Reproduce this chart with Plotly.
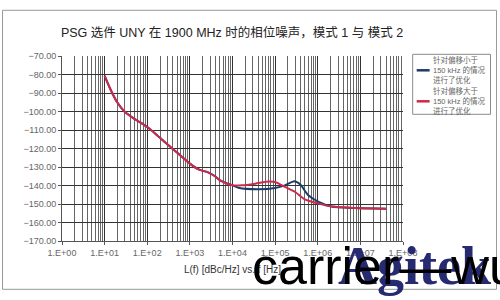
import plotly.graph_objects as go

# ---- data ----
shared_f = [10, 13.5, 19.5, 30, 52, 100, 155, 265, 460, 1000, 1600, 2750, 3900, 5100, 10000]
shared_v = [-80.8, -87.7, -94.9, -100.3, -104.2, -108.4, -112.0, -116.8, -121.5, -128.2,
            -131.3, -133.0, -135.0, -137.2, -139.9]

blue_tail_f = [13800, 40700, 100000, 170000, 282000, 390000, 600000, 1.05e6, 2.1e6, 7.6e6, 4e7]
blue_tail_v = [-141.2, -142.0, -141.3, -139.9, -137.7, -139.5, -145.3, -148.9, -151.4, -152.2, -152.5]

red_tail_f = [16600, 34000, 69000, 100000, 170000, 295000, 500000, 1.05e6, 2.1e6, 7.6e6, 4e7]
red_tail_v = [-139.9, -139.0, -137.8, -138.1, -140.8, -143.5, -147.5, -149.8, -151.4, -152.2, -152.5]

blue_name = "针对偏移小于<br>150 kHz 的情况<br>进行了优化"
red_name = "针对偏移大于<br>150 kHz 的情况<br>进行了优化"

x_tickvals = [1, 10, 100, 1000, 1e4, 1e5, 1e6, 1e7, 1e8]
x_ticktext = ["1.E+00", "1.E+01", "1.E+02", "1.E+03", "1.E+04", "1.E+05", "1.E+06", "1.E+07", "1.E+08"]
y_tickvals = [-70, -80, -90, -100, -110, -120, -130, -140, -150, -160, -170]

title_text = "PSG 选件 UNY 在 1900 MHz 时的相位噪声，模式 1 与 模式 2"
x_title = "L(f) [dBc/Hz] vs. f [Hz]"

BLUE = "#1d3c66"
RED = "#cc2a4c"

# ---- layout geometry (pixels) ----
W, H = 500, 300
L, R, T, B = 61.6, 403.3, 55.7, 240.7
pw, ph = R - L, B - T

def px(x):
    return (x - L) / pw

def py(y):
    return (B - y) / ph

FONT = "Liberation Sans, Arial, Noto Sans CJK SC, sans-serif"

minor_vals = [m * 10 ** d for d in range(0, 8) for m in range(2, 10)]

fig = go.Figure()
fig.add_trace(go.Scatter(
    x=shared_f + blue_tail_f, y=shared_v + blue_tail_v, mode="lines", name=blue_name,
    line=dict(color=BLUE, width=2, shape="spline", smoothing=0.7)))
fig.add_trace(go.Scatter(
    x=shared_f + red_tail_f, y=shared_v + red_tail_v, mode="lines", name=red_name,
    line=dict(color=RED, width=2, shape="spline", smoothing=0.7)))

fig.update_layout(
    width=W, height=H,
    margin=dict(l=L, r=W - R, t=T, b=H - B, autoexpand=False),
    paper_bgcolor="white", plot_bgcolor="white",
    font=dict(family=FONT, color="#555555", size=9),
    title=dict(text=title_text, x=232 / W, xanchor="center", xref="container",
               y=1 - 33 / H, yanchor="middle",
               font=dict(family=FONT, size=12.5, color="#222222")),
    showlegend=False,
)

fig.update_xaxes(
    type="log", range=[0, 8], tickmode="array", tickvals=x_tickvals, ticktext=x_ticktext,
    showgrid=True, gridcolor="#333333", gridwidth=1,
    minor=dict(tickmode="array", tickvals=minor_vals, showgrid=True, gridcolor="#666666", gridwidth=1),
    ticks="outside", ticklen=3, tickcolor="#555555",
    showline=True, linecolor="#555555", mirror=False,
    tickfont=dict(size=9, color="#666666"),
    title=dict(text=x_title, font=dict(size=10, color="#333333"), standoff=9),
    zeroline=False,
)
fig.update_yaxes(
    range=[-170, -70], tickmode="array", tickvals=y_tickvals, tickformat=".2f",
    showgrid=True, gridcolor="#333333", gridwidth=1,
    ticks="outside", ticklen=3, tickcolor="#555555",
    showline=True, linecolor="#555555",
    tickfont=dict(size=9, color="#666666"), zeroline=False,
)

# outer frame
fig.add_shape(type="rect", xref="paper", yref="paper",
              x0=px(2), x1=px(497), y0=py(289), y1=py(10),
              line=dict(color="#999999", width=1), fillcolor="rgba(0,0,0,0)", layer="below")

# legend (drawn by hand to match the compact box of the reference)
fig.add_shape(type="rect", xref="paper", yref="paper",
              x0=px(413), x1=px(491), y0=py(114), y1=py(54),
              line=dict(color="#8a8a8a", width=1), fillcolor="white", layer="above")
for name, color, ymid in [(blue_name, BLUE, 70), (red_name, RED, 101)]:
    fig.add_shape(type="line", xref="paper", yref="paper",
                  x0=px(417), x1=px(430), y0=py(ymid), y1=py(ymid),
                  line=dict(color=color, width=2.5), layer="above")
    fig.add_annotation(text=name, xref="paper", yref="paper", x=px(431), y=py(ymid),
                       xanchor="left", yanchor="middle", align="left", showarrow=False,
                       font=dict(family=FONT, size=7.5, color="#666666"))

# watermarks: logo first, black text drawn over it
fig.add_annotation(text="<b>Agitek</b>", xref="paper", yref="paper", x=px(336), y=py(298),
                   xanchor="left", yanchor="bottom", showarrow=False,
                   font=dict(family="Liberation Serif, DejaVu Serif, serif", size=54, color="#262a70"))
fig.add_annotation(text="carrier—wu", xref="paper", yref="paper", x=px(250), y=py(297),
                   xanchor="left", yanchor="bottom", showarrow=False,
                   font=dict(family="Liberation Sans, Arial, sans-serif", size=52, color="#000000"))

fig.write_html("out.html")
